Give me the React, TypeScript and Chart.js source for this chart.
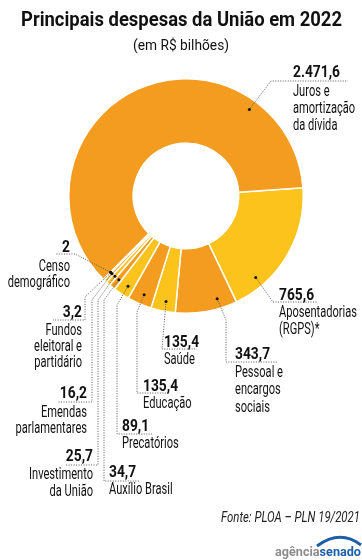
import React, { useEffect, useRef } from 'react';
import { Chart, registerables } from 'chart.js';

Chart.register(...registerables);

// ---- data ----
const categories = [
  'Aposentadorias (RGPS)*',
  'Pessoal e encargos sociais',
  'Saúde',
  'Educação',
  'Precatórios',
  'Auxílio Brasil',
  'Investimento da União',
  'Emendas parlamentares',
  'Fundos eleitoral e partidário',
  'Censo demográfico',
  'Juros e amortização da dívida',
];
const values = [765.6, 343.7, 135.4, 135.4, 89.1, 34.7, 25.7, 16.2, 3.2, 2, 2471.6];
const labelLines = [
  ['Aposentadorias', '(RGPS)*'],
  ['Pessoal e', 'encargos', 'sociais'],
  ['Saúde'],
  ['Educação'],
  ['Precatórios'],
  ['Auxílio Brasil'],
  ['Investimento', 'da União'],
  ['Emendas', 'parlamentares'],
  ['Fundos', 'eleitoral e', 'partidário'],
  ['Censo', 'demográfico'],
  ['Juros e', 'amortização', 'da dívida'],
];

const TITLE = 'Principais despesas da União em 2022';
const SUBTITLE = '(em R$ bilhões)';
const SOURCE = 'Fonte: PLOA – PLN 19/2021';

// ---- styles / layout ----
const ORANGE = '#F39C1F';
const YELLOW = '#FCC31C';
const colors = [YELLOW, ORANGE, YELLOW, ORANGE, YELLOW, ORANGE, YELLOW, ORANGE, YELLOW, ORANGE, ORANGE];
const FONT = 'Roboto, "Noto Sans", sans-serif';

type Layout = { path: number[][]; x: number; y: number; align: CanvasTextAlign; first: number; lh: number; frac: number };
const labelLayout: Layout[] = [
  { frac: 0.78, path: [[273, 302], [318, 302]], x: 279, y: 300, align: 'left', first: 17, lh: 17 },
  { frac: 0.28, path: [[226, 320], [226, 362], [278, 362]], x: 235, y: 359, align: 'left', first: 18, lh: 17.3 },
  { frac: 0.45, path: [[162, 349], [197, 349]], x: 164, y: 347, align: 'left', first: 17, lh: 17 },
  { frac: 0.46, path: [[137, 312], [137, 393], [170, 393]], x: 143, y: 391, align: 'left', first: 16.5, lh: 17 },
  { frac: 0.4, path: [[117, 305], [117, 434], [152, 434]], x: 122, y: 431, align: 'left', first: 17, lh: 17 },
  { frac: 0.4, path: [[104, 300], [104, 481], [140, 481]], x: 109, y: 477, align: 'left', first: 17, lh: 17 },
  { frac: 0.4, path: [[98, 300], [98, 465], [65, 465]], x: 93, y: 461, align: 'right', first: 18, lh: 17 },
  { frac: 0.5, path: [[92, 300], [92, 402], [57, 402]], x: 87, y: 398, align: 'right', first: 19, lh: 15.5 },
  { frac: 0.5, path: [[85, 297], [85, 320], [53, 320]], x: 82, y: 317, align: 'right', first: 18, lh: 16 },
  { frac: 0.5, path: [[75, 254], [55, 254]], x: 70, y: 252, align: 'right', first: 19, lh: 15.5 },
  { frac: 0.775, path: [[271, 81], [348, 81]], x: 293, y: 77, align: 'left', first: 19, lh: 17 },
];

function fmt(v: number): string {
  const [i, d] = v.toFixed(1).split('.');
  const int = i.replace(/\B(?=(\d{3})+(?!\d))/g, '.');
  return d === '0' ? int : int + ',' + d;
}

function scaleFor(ctx: CanvasRenderingContext2D, font: string, sample: string, target: number) {
  ctx.font = font;
  return target / ctx.measureText(sample).width;
}

function drawText(ctx: CanvasRenderingContext2D, t: string, x: number, y: number, font: string, sx: number, align: CanvasTextAlign) {
  ctx.save();
  ctx.font = font;
  ctx.textAlign = align;
  ctx.translate(x, y);
  ctx.scale(sx, 1);
  ctx.fillText(t, 0, 0);
  ctx.restore();
}

const annotate = {
  id: 'annotate',
  afterDraw(chart: any) {
    const ctx: CanvasRenderingContext2D = chart.ctx;
    ctx.save();
    ctx.textBaseline = 'alphabetic';
    ctx.fillStyle = '#111';

    const fTitle = `bold 21px ${FONT}`;
    const fSub = `15px ${FONT}`;
    const fVal = `bold 17px ${FONT}`;
    const fLab = `16.5px ${FONT}`;
    const fSrc = `italic 14px ${FONT}`;
    const sTitle = scaleFor(ctx, fTitle, TITLE, 321);
    const sSub = scaleFor(ctx, fSub, SUBTITLE, 96);
    const sVal = scaleFor(ctx, fVal, '2.471,6', 47);
    const sLab = scaleFor(ctx, fLab, 'Aposentadorias', 78);
    const sSrc = scaleFor(ctx, fSrc, SOURCE, 139);

    drawText(ctx, TITLE, 181.5, 26, fTitle, sTitle, 'center');
    drawText(ctx, SUBTITLE, 181, 50, fSub, sSub, 'center');

    const meta = chart.getDatasetMeta(0);
    meta.data.forEach((arc: any, i: number) => {
      const lay = labelLayout[i];
      const ang = arc.startAngle + (arc.endAngle - arc.startAngle) * lay.frac;
      const r = arc.outerRadius - 10;
      const px = arc.x + Math.cos(ang) * r;
      const py = arc.y + Math.sin(ang) * r;
      ctx.save();
      ctx.strokeStyle = '#555';
      ctx.lineWidth = 1;
      ctx.setLineDash([1, 1.5]);
      ctx.beginPath();
      ctx.moveTo(px, py);
      lay.path.forEach((p) => ctx.lineTo(p[0], p[1]));
      ctx.stroke();
      ctx.restore();
      ctx.fillStyle = '#111';
      ctx.beginPath();
      ctx.arc(px, py, 1.5, 0, Math.PI * 2);
      ctx.fill();
      drawText(ctx, fmt(values[i]), lay.x, lay.y, fVal, sVal, lay.align);
      labelLines[i].forEach((t, k) =>
        drawText(ctx, t, lay.x, lay.y + lay.first + lay.lh * k, fLab, sLab, lay.align)
      );
    });

    // source
    ctx.fillStyle = '#222';
    drawText(ctx, SOURCE, 360, 522, fSrc, sSrc, 'right');

    // logo
    const fLogo = `bold 13px ${FONT}`;
    const sLogo = scaleFor(ctx, fLogo, 'agênciasenado', 86);
    ctx.font = fLogo;
    const aw = ctx.measureText('agência').width * sLogo;
    ctx.fillStyle = '#8c8c8c';
    drawText(ctx, 'agência', 275, 556, fLogo, sLogo, 'left');
    ctx.fillStyle = '#1d5ea8';
    drawText(ctx, 'senado', 275 + aw, 556, fLogo, sLogo, 'left');
    ctx.strokeStyle = '#1d5ea8';
    ctx.lineWidth = 3;
    ctx.beginPath();
    ctx.moveTo(317, 546);
    ctx.quadraticCurveTo(340, 529, 361, 545);
    ctx.stroke();
    ctx.restore();
  },
};

export default function App() {
  const ref = useRef<HTMLCanvasElement | null>(null);
  useEffect(() => {
    if (!ref.current) return;
    const chart = new Chart(ref.current, {
      type: 'doughnut',
      data: {
        labels: categories,
        datasets: [
          {
            data: values,
            backgroundColor: colors,
            borderColor: '#ffffff',
            borderWidth: 1.5,
            hoverOffset: 0,
          },
        ],
      },
      options: {
        animation: false,
        responsive: false,
        rotation: 86,
        cutout: '45%',
        layout: { padding: { left: 68, right: 58, top: 78, bottom: 246 } },
        plugins: {
          legend: { display: false },
          tooltip: { enabled: false },
          title: { display: false },
        },
      },
      plugins: [annotate],
    });
    return () => chart.destroy();
  }, []);
  return (
    <div style={{ position: 'fixed', left: 0, top: 0, width: 362, height: 560, background: '#fff' }}>
      <canvas ref={ref} width={362} height={560} style={{ width: 362, height: 560, display: 'block' }} />
    </div>
  );
}
